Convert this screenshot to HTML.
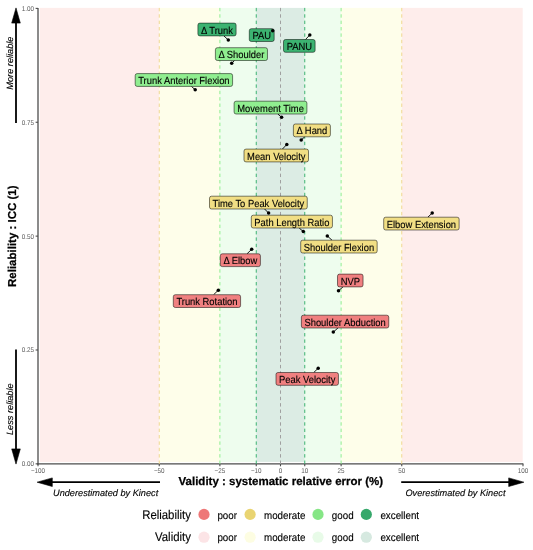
<!DOCTYPE html><html><head><meta charset="utf-8"><style>html,body{margin:0;padding:0;background:#fff;}svg{display:block;}text{font-family:"Liberation Sans",sans-serif;text-rendering:geometricPrecision;}</style></head><body>
<svg width="533" height="550" viewBox="0 0 533 550">
<defs><filter id="b" x="0" y="0" width="1" height="1" color-interpolation-filters="sRGB"><feGaussianBlur stdDeviation="0.35"/></filter></defs><g filter="url(#b)">
<rect x="0" y="0" width="533" height="550" fill="#fff"/>
<rect x="39.80" y="7.9" width="119.45" height="454.00" fill="#FEEDEB"/>
<rect x="159.25" y="7.9" width="60.62" height="454.00" fill="#FEFEEA"/>
<rect x="219.88" y="7.9" width="36.38" height="454.00" fill="#EEFDEE"/>
<rect x="256.25" y="7.9" width="48.50" height="454.00" fill="#DCECE4"/>
<rect x="304.75" y="7.9" width="36.38" height="454.00" fill="#EEFDEE"/>
<rect x="341.12" y="7.9" width="60.62" height="454.00" fill="#FEFEEA"/>
<rect x="401.75" y="7.9" width="120.95" height="454.00" fill="#FEEDEB"/>
<line x1="38" y1="7.9" x2="38" y2="464.8" stroke="#4D4D4D" stroke-width="1.3"/>
<line x1="37.3" y1="463.85" x2="523.3" y2="463.85" stroke="#4D4D4D" stroke-width="1.3"/>
<line x1="35.6" y1="463.85" x2="38" y2="463.85" stroke="#4D4D4D" stroke-width="1.1"/>
<text transform="translate(34.00,466.25) scale(1,1.1)" font-size="6.3" fill="#5E5E5E" text-anchor="end">0.00</text>
<line x1="35.6" y1="349.99" x2="38" y2="349.99" stroke="#4D4D4D" stroke-width="1.1"/>
<text transform="translate(34.00,352.39) scale(1,1.1)" font-size="6.3" fill="#5E5E5E" text-anchor="end">0.25</text>
<line x1="35.6" y1="236.13" x2="38" y2="236.13" stroke="#4D4D4D" stroke-width="1.1"/>
<text transform="translate(34.00,238.53) scale(1,1.1)" font-size="6.3" fill="#5E5E5E" text-anchor="end">0.50</text>
<line x1="35.6" y1="122.26" x2="38" y2="122.26" stroke="#4D4D4D" stroke-width="1.1"/>
<text transform="translate(34.00,124.66) scale(1,1.1)" font-size="6.3" fill="#5E5E5E" text-anchor="end">0.75</text>
<line x1="35.6" y1="8.40" x2="38" y2="8.40" stroke="#4D4D4D" stroke-width="1.1"/>
<text transform="translate(34.00,10.80) scale(1,1.1)" font-size="6.3" fill="#5E5E5E" text-anchor="end">1.00</text>
<line x1="38.00" y1="463.85" x2="38.00" y2="466.3" stroke="#4D4D4D" stroke-width="1.1"/>
<text transform="translate(38.00,472.70) scale(1,1.1)" font-size="6.3" fill="#5E5E5E" text-anchor="middle">−100</text>
<line x1="159.25" y1="463.85" x2="159.25" y2="466.3" stroke="#4D4D4D" stroke-width="1.1"/>
<text transform="translate(159.25,472.70) scale(1,1.1)" font-size="6.3" fill="#5E5E5E" text-anchor="middle">−50</text>
<line x1="219.88" y1="463.85" x2="219.88" y2="466.3" stroke="#4D4D4D" stroke-width="1.1"/>
<text transform="translate(219.88,472.70) scale(1,1.1)" font-size="6.3" fill="#5E5E5E" text-anchor="middle">−25</text>
<line x1="256.25" y1="463.85" x2="256.25" y2="466.3" stroke="#4D4D4D" stroke-width="1.1"/>
<text transform="translate(256.25,472.70) scale(1,1.1)" font-size="6.3" fill="#5E5E5E" text-anchor="middle">−10</text>
<line x1="280.50" y1="463.85" x2="280.50" y2="466.3" stroke="#4D4D4D" stroke-width="1.1"/>
<text transform="translate(280.50,472.70) scale(1,1.1)" font-size="6.3" fill="#5E5E5E" text-anchor="middle">0</text>
<line x1="304.75" y1="463.85" x2="304.75" y2="466.3" stroke="#4D4D4D" stroke-width="1.1"/>
<text transform="translate(304.75,472.70) scale(1,1.1)" font-size="6.3" fill="#5E5E5E" text-anchor="middle">10</text>
<line x1="341.12" y1="463.85" x2="341.12" y2="466.3" stroke="#4D4D4D" stroke-width="1.1"/>
<text transform="translate(341.12,472.70) scale(1,1.1)" font-size="6.3" fill="#5E5E5E" text-anchor="middle">25</text>
<line x1="401.75" y1="463.85" x2="401.75" y2="466.3" stroke="#4D4D4D" stroke-width="1.1"/>
<text transform="translate(401.75,472.70) scale(1,1.1)" font-size="6.3" fill="#5E5E5E" text-anchor="middle">50</text>
<line x1="523.00" y1="463.85" x2="523.00" y2="466.3" stroke="#4D4D4D" stroke-width="1.1"/>
<text transform="translate(523.00,472.70) scale(1,1.1)" font-size="6.3" fill="#5E5E5E" text-anchor="middle">100</text>
<line x1="159.25" y1="7.9" x2="159.25" y2="464.4" stroke="#F0D890" stroke-width="1.0" stroke-dasharray="3.4 2.975"/>
<line x1="401.75" y1="7.9" x2="401.75" y2="464.4" stroke="#F0D890" stroke-width="1.0" stroke-dasharray="3.4 2.975"/>
<line x1="219.88" y1="7.9" x2="219.88" y2="464.4" stroke="#90EE90" stroke-width="1.0" stroke-dasharray="3.4 2.975"/>
<line x1="341.12" y1="7.9" x2="341.12" y2="464.4" stroke="#90EE90" stroke-width="1.0" stroke-dasharray="3.4 2.975"/>
<line x1="256.25" y1="7.9" x2="256.25" y2="464.4" stroke="#3CB371" stroke-width="1.0" stroke-dasharray="3.4 2.975"/>
<line x1="304.75" y1="7.9" x2="304.75" y2="464.4" stroke="#3CB371" stroke-width="1.0" stroke-dasharray="3.4 2.975"/>
<line x1="280.50" y1="7.9" x2="280.50" y2="464.4" stroke="#A0A0A0" stroke-width="1.0" stroke-dasharray="3.4 2.975"/>
<line x1="228.30" y1="40.00" x2="223.89" y2="35.90" stroke="#000" stroke-width="0.9"/>
<line x1="309.80" y1="35.00" x2="305.47" y2="39.50" stroke="#000" stroke-width="0.9"/>
<line x1="231.70" y1="63.20" x2="234.59" y2="60.50" stroke="#000" stroke-width="0.9"/>
<line x1="195.20" y1="89.70" x2="191.35" y2="86.40" stroke="#000" stroke-width="0.9"/>
<line x1="281.60" y1="117.30" x2="277.82" y2="114.00" stroke="#000" stroke-width="0.9"/>
<line x1="301.20" y1="140.00" x2="304.77" y2="136.80" stroke="#000" stroke-width="0.9"/>
<line x1="286.80" y1="144.50" x2="282.39" y2="149.10" stroke="#000" stroke-width="0.9"/>
<line x1="268.60" y1="213.10" x2="264.61" y2="209.00" stroke="#000" stroke-width="0.9"/>
<line x1="303.30" y1="231.60" x2="299.19" y2="228.00" stroke="#000" stroke-width="0.9"/>
<line x1="327.30" y1="235.90" x2="331.97" y2="240.20" stroke="#000" stroke-width="0.9"/>
<line x1="432.20" y1="213.00" x2="427.92" y2="217.20" stroke="#000" stroke-width="0.9"/>
<line x1="251.70" y1="249.30" x2="247.02" y2="253.80" stroke="#000" stroke-width="0.9"/>
<line x1="218.30" y1="290.20" x2="213.61" y2="294.70" stroke="#000" stroke-width="0.9"/>
<line x1="338.50" y1="290.80" x2="342.96" y2="286.90" stroke="#000" stroke-width="0.9"/>
<line x1="333.30" y1="332.10" x2="337.90" y2="328.00" stroke="#000" stroke-width="0.9"/>
<line x1="318.20" y1="368.20" x2="313.79" y2="372.50" stroke="#000" stroke-width="0.9"/>
<rect x="197.90" y="23.10" width="38.20" height="12.80" rx="2" ry="2" fill="#3CB371" stroke="#000" stroke-width="0.6" stroke-opacity="0.85"/>
<text transform="translate(217.00,33.55) scale(1,1.1)" font-size="9.4" fill="#000" text-anchor="middle" stroke="#000" stroke-width="0.12">Δ Trunk</text>
<rect x="249.30" y="28.70" width="24.86" height="12.80" rx="2" ry="2" fill="#3CB371" stroke="#000" stroke-width="0.6" stroke-opacity="0.85"/>
<text transform="translate(261.73,39.15) scale(1,1.1)" font-size="9.4" fill="#000" text-anchor="middle" stroke="#000" stroke-width="0.12">PAU</text>
<rect x="283.50" y="39.50" width="31.61" height="12.80" rx="2" ry="2" fill="#3CB371" stroke="#000" stroke-width="0.6" stroke-opacity="0.85"/>
<text transform="translate(299.30,49.95) scale(1,1.1)" font-size="9.4" fill="#000" text-anchor="middle" stroke="#000" stroke-width="0.12">PANU</text>
<rect x="215.40" y="47.70" width="52.07" height="12.80" rx="2" ry="2" fill="#90EE90" stroke="#000" stroke-width="0.6" stroke-opacity="0.85"/>
<text transform="translate(241.43,58.15) scale(1,1.1)" font-size="9.4" fill="#000" text-anchor="middle" stroke="#000" stroke-width="0.12">Δ Shoulder</text>
<rect x="135.20" y="73.60" width="97.39" height="12.80" rx="2" ry="2" fill="#90EE90" stroke="#000" stroke-width="0.6" stroke-opacity="0.85"/>
<text transform="translate(183.90,84.05) scale(1,1.1)" font-size="9.4" fill="#000" text-anchor="middle" stroke="#000" stroke-width="0.12">Trunk Anterior Flexion</text>
<rect x="234.10" y="101.20" width="72.81" height="12.80" rx="2" ry="2" fill="#90EE90" stroke="#000" stroke-width="0.6" stroke-opacity="0.85"/>
<text transform="translate(270.50,111.65) scale(1,1.1)" font-size="9.4" fill="#000" text-anchor="middle" stroke="#000" stroke-width="0.12">Movement Time</text>
<rect x="293.40" y="124.00" width="37.00" height="12.80" rx="2" ry="2" fill="#F1DE84" stroke="#000" stroke-width="0.6" stroke-opacity="0.85"/>
<text transform="translate(311.90,134.45) scale(1,1.1)" font-size="9.4" fill="#000" text-anchor="middle" stroke="#000" stroke-width="0.12">Δ Hand</text>
<rect x="244.00" y="149.10" width="64.51" height="12.80" rx="2" ry="2" fill="#F1DE84" stroke="#000" stroke-width="0.6" stroke-opacity="0.85"/>
<text transform="translate(276.26,159.55) scale(1,1.1)" font-size="9.4" fill="#000" text-anchor="middle" stroke="#000" stroke-width="0.12">Mean Velocity</text>
<rect x="209.50" y="196.20" width="97.75" height="12.80" rx="2" ry="2" fill="#F1DE84" stroke="#000" stroke-width="0.6" stroke-opacity="0.85"/>
<text transform="translate(258.37,206.65) scale(1,1.1)" font-size="9.4" fill="#000" text-anchor="middle" stroke="#000" stroke-width="0.12">Time To Peak Velocity</text>
<rect x="251.30" y="215.20" width="81.15" height="12.80" rx="2" ry="2" fill="#F1DE84" stroke="#000" stroke-width="0.6" stroke-opacity="0.85"/>
<text transform="translate(291.87,225.65) scale(1,1.1)" font-size="9.4" fill="#000" text-anchor="middle" stroke="#000" stroke-width="0.12">Path Length Ratio</text>
<rect x="300.70" y="240.20" width="76.46" height="12.80" rx="2" ry="2" fill="#F1DE84" stroke="#000" stroke-width="0.6" stroke-opacity="0.85"/>
<text transform="translate(338.93,250.65) scale(1,1.1)" font-size="9.4" fill="#000" text-anchor="middle" stroke="#000" stroke-width="0.12">Shoulder Flexion</text>
<rect x="383.70" y="217.20" width="75.42" height="12.80" rx="2" ry="2" fill="#F1DE84" stroke="#000" stroke-width="0.6" stroke-opacity="0.85"/>
<text transform="translate(421.41,227.65) scale(1,1.1)" font-size="9.4" fill="#000" text-anchor="middle" stroke="#000" stroke-width="0.12">Elbow Extension</text>
<rect x="220.30" y="253.80" width="40.11" height="12.80" rx="2" ry="2" fill="#F08080" stroke="#000" stroke-width="0.6" stroke-opacity="0.85"/>
<text transform="translate(240.36,264.25) scale(1,1.1)" font-size="9.4" fill="#000" text-anchor="middle" stroke="#000" stroke-width="0.12">Δ Elbow</text>
<rect x="173.30" y="294.70" width="67.28" height="12.80" rx="2" ry="2" fill="#F08080" stroke="#000" stroke-width="0.6" stroke-opacity="0.85"/>
<text transform="translate(206.94,305.15) scale(1,1.1)" font-size="9.4" fill="#000" text-anchor="middle" stroke="#000" stroke-width="0.12">Trunk Rotation</text>
<rect x="337.50" y="274.10" width="25.55" height="12.80" rx="2" ry="2" fill="#F08080" stroke="#000" stroke-width="0.6" stroke-opacity="0.85"/>
<text transform="translate(350.28,284.55) scale(1,1.1)" font-size="9.4" fill="#000" text-anchor="middle" stroke="#000" stroke-width="0.12">NVP</text>
<rect x="301.40" y="315.20" width="87.38" height="12.80" rx="2" ry="2" fill="#F08080" stroke="#000" stroke-width="0.6" stroke-opacity="0.85"/>
<text transform="translate(345.09,325.65) scale(1,1.1)" font-size="9.4" fill="#000" text-anchor="middle" stroke="#000" stroke-width="0.12">Shoulder Abduction</text>
<rect x="276.00" y="372.50" width="62.44" height="12.80" rx="2" ry="2" fill="#F08080" stroke="#000" stroke-width="0.6" stroke-opacity="0.85"/>
<text transform="translate(307.22,382.95) scale(1,1.1)" font-size="9.4" fill="#000" text-anchor="middle" stroke="#000" stroke-width="0.12">Peak Velocity</text>
<circle cx="228.30" cy="40.00" r="1.75" fill="#000"/>
<circle cx="272.70" cy="30.80" r="1.75" fill="#000"/>
<circle cx="309.80" cy="35.00" r="1.75" fill="#000"/>
<circle cx="231.70" cy="63.20" r="1.75" fill="#000"/>
<circle cx="195.20" cy="89.70" r="1.75" fill="#000"/>
<circle cx="281.60" cy="117.30" r="1.75" fill="#000"/>
<circle cx="301.20" cy="140.00" r="1.75" fill="#000"/>
<circle cx="286.80" cy="144.50" r="1.75" fill="#000"/>
<circle cx="268.60" cy="213.10" r="1.75" fill="#000"/>
<circle cx="303.30" cy="231.60" r="1.75" fill="#000"/>
<circle cx="327.30" cy="235.90" r="1.75" fill="#000"/>
<circle cx="432.20" cy="213.00" r="1.75" fill="#000"/>
<circle cx="251.70" cy="249.30" r="1.75" fill="#000"/>
<circle cx="218.30" cy="290.20" r="1.75" fill="#000"/>
<circle cx="338.50" cy="290.80" r="1.75" fill="#000"/>
<circle cx="333.30" cy="332.10" r="1.75" fill="#000"/>
<circle cx="318.20" cy="368.20" r="1.75" fill="#000"/>
<text transform="translate(280.80,484.60)" font-size="11.5" fill="#000" text-anchor="middle" font-weight="bold" stroke="#000" stroke-width="0.25">Validity : systematic relative error (%)</text>
<text transform="translate(15.90,236.20) rotate(-90)" font-size="11.5" fill="#000" text-anchor="middle" font-weight="bold" stroke="#000" stroke-width="0.25">Reliability : ICC (1)</text>
<line x1="16.00" y1="123.00" x2="16.00" y2="22.10" stroke="#000" stroke-width="1.8"/>
<path d="M16.00,7.90 L20.30,23.10 L11.70,23.10 Z" fill="#000" stroke="#000" stroke-width="0.6"/>
<line x1="16.00" y1="349.50" x2="16.00" y2="449.90" stroke="#000" stroke-width="1.8"/>
<path d="M16.00,464.10 L11.70,448.90 L20.30,448.90 Z" fill="#000" stroke="#000" stroke-width="0.6"/>
<line x1="160.00" y1="482.20" x2="51.30" y2="482.20" stroke="#000" stroke-width="1.8"/>
<path d="M37.10,482.20 L52.30,477.90 L52.30,486.50 Z" fill="#000" stroke="#000" stroke-width="0.6"/>
<line x1="401.20" y1="482.20" x2="509.70" y2="482.20" stroke="#000" stroke-width="1.8"/>
<path d="M523.90,482.20 L508.70,486.50 L508.70,477.90 Z" fill="#000" stroke="#000" stroke-width="0.6"/>
<text transform="translate(12.70,63.10) rotate(-90)" font-size="9.2" fill="#000" text-anchor="middle" font-style="italic" stroke="#000" stroke-width="0.12">More reliable</text>
<text transform="translate(12.70,409.20) rotate(-90)" font-size="9.2" fill="#000" text-anchor="middle" font-style="italic" stroke="#000" stroke-width="0.12">Less reliable</text>
<text transform="translate(158.20,495.50)" font-size="9.2" fill="#000" text-anchor="end" font-style="italic" stroke="#000" stroke-width="0.12">Underestimated by Kinect</text>
<text transform="translate(405.40,495.50)" font-size="9.2" fill="#000" text-anchor="start" font-style="italic" stroke="#000" stroke-width="0.12">Overestimated by Kinect</text>
<text transform="translate(190.90,519.00) scale(1,1.1)" font-size="11.4" fill="#000" text-anchor="end" stroke="#000" stroke-width="0.12">Reliability</text>
<text transform="translate(190.90,541.40) scale(1,1.1)" font-size="11.4" fill="#000" text-anchor="end" stroke="#000" stroke-width="0.12">Validity</text>
<circle cx="204.0" cy="514.4" r="5.6" fill="#EE7777"/>
<text transform="translate(217.40,518.60) scale(1,1.1)" font-size="9.8" fill="#000" text-anchor="start" stroke="#000" stroke-width="0.12">poor</text>
<circle cx="204.0" cy="537.2" r="5.6" fill="#FCE4E6"/>
<text transform="translate(217.40,541.30) scale(1,1.1)" font-size="9.8" fill="#000" text-anchor="start" stroke="#000" stroke-width="0.12">poor</text>
<circle cx="250.1" cy="514.4" r="5.6" fill="#E9D472"/>
<text transform="translate(264.00,518.60) scale(1,1.1)" font-size="9.8" fill="#000" text-anchor="start" stroke="#000" stroke-width="0.12">moderate</text>
<circle cx="250.1" cy="537.2" r="5.6" fill="#FDFDE2"/>
<text transform="translate(264.00,541.30) scale(1,1.1)" font-size="9.8" fill="#000" text-anchor="start" stroke="#000" stroke-width="0.12">moderate</text>
<circle cx="318.0" cy="514.4" r="5.6" fill="#86E686"/>
<text transform="translate(331.80,518.60) scale(1,1.1)" font-size="9.8" fill="#000" text-anchor="start" stroke="#000" stroke-width="0.12">good</text>
<circle cx="318.0" cy="537.2" r="5.6" fill="#E8FBE8"/>
<text transform="translate(331.80,541.30) scale(1,1.1)" font-size="9.8" fill="#000" text-anchor="start" stroke="#000" stroke-width="0.12">good</text>
<circle cx="366.3" cy="514.4" r="5.6" fill="#36A86B"/>
<text transform="translate(380.40,518.60) scale(1,1.1)" font-size="9.8" fill="#000" text-anchor="start" stroke="#000" stroke-width="0.12">excellent</text>
<circle cx="366.3" cy="537.2" r="5.6" fill="#D6E9E0"/>
<text transform="translate(380.40,541.30) scale(1,1.1)" font-size="9.8" fill="#000" text-anchor="start" stroke="#000" stroke-width="0.12">excellent</text>
</g></svg></body></html>
